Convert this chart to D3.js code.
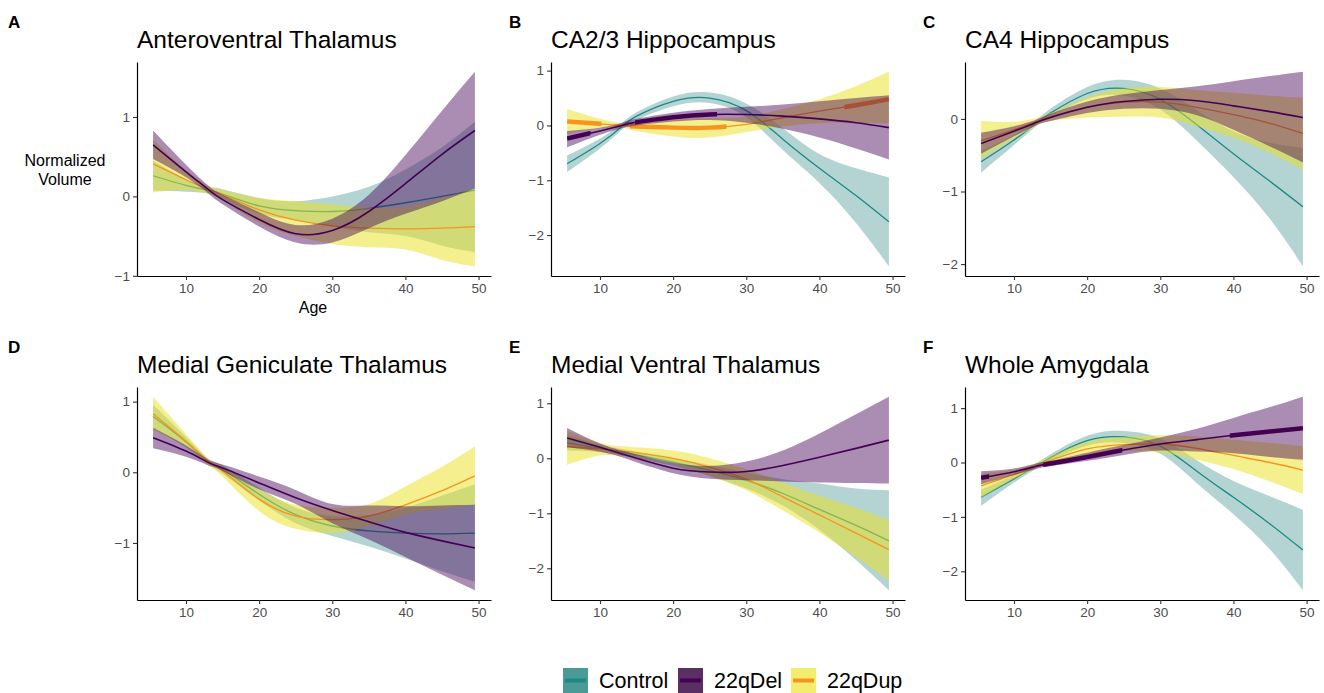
<!DOCTYPE html>
<html>
<head>
<meta charset="utf-8">
<script src="https://cdn.jsdelivr.net/npm/d3@7"></script>
<style>
body { margin: 0; background: #fff; }
svg { font-family: "Liberation Sans", Arial, Helvetica, sans-serif; }
</style>
</head>
<body>
<svg id="fig" width="1324" height="693"></svg>
<script>
var ages = [5.5, 10, 13, 15, 20, 25, 30, 35, 40, 45, 49.5];
var xTicks = [10, 20, 30, 40, 50];
var groupNames = ["Control", "22qDel", "22qDup"];

// each entry: [lower, fit, upper]
var avControl = [[0.07,0.26,0.45],[0.06,0.14,0.22],[0.04,0.08,0.12],[-0.03,0.03,0.09],[-0.22,-0.12,-0.02],[-0.3,-0.18,-0.06],[-0.38,-0.19,0.0],[-0.45,-0.15,0.12],[-0.5,-0.08,0.34],[-0.62,0.0,0.62],[-0.7,0.08,0.94]];
var avDel = [[0.47,0.65,0.83],[0.24,0.31,0.4],[0.04,0.09,0.14],[-0.1,-0.04,0.02],[-0.38,-0.29,-0.2],[-0.58,-0.47,-0.36],[-0.58,-0.43,-0.28],[-0.4,-0.19,0.02],[-0.22,0.16,0.52],[-0.06,0.53,1.08],[0.1,0.83,1.57]];
var avDup = [[0.05,0.41,0.72],[0.08,0.21,0.33],[0.03,0.09,0.14],[-0.05,0.02,0.08],[-0.33,-0.17,-0.02],[-0.5,-0.3,-0.06],[-0.6,-0.37,-0.1],[-0.64,-0.4,-0.14],[-0.67,-0.41,-0.13],[-0.8,-0.4,-0.02],[-0.88,-0.38,0.1]];

var ca23Control = [[-0.85,-0.7,-0.55],[-0.42,-0.33,-0.24],[-0.08,-0.02,0.04],[0.1,0.17,0.24],[0.35,0.44,0.53],[0.41,0.5,0.6],[0.15,0.27,0.4],[-0.45,-0.25,-0.05],[-1.05,-0.78,-0.52],[-1.78,-1.28,-0.78],[-2.57,-1.76,-0.95]];
var ca23Del = [[-0.4,-0.24,-0.1],[-0.17,-0.1,-0.04],[-0.05,0.0,0.05],[0.0,0.06,0.12],[0.07,0.15,0.23],[0.1,0.2,0.3],[0.05,0.2,0.34],[-0.06,0.17,0.38],[-0.22,0.12,0.44],[-0.42,0.05,0.5],[-0.62,-0.04,0.55]];
var ca23Dup = [[-0.15,0.07,0.3],[-0.05,0.03,0.12],[-0.04,0.0,0.04],[-0.1,-0.02,0.05],[-0.2,-0.04,0.1],[-0.22,-0.04,0.13],[-0.12,0.02,0.16],[-0.02,0.14,0.3],[0.04,0.26,0.48],[0.05,0.37,0.72],[0.04,0.48,0.98]];

var ca4Control = [[-0.74,-0.59,-0.44],[-0.36,-0.29,-0.22],[-0.1,-0.06,-0.02],[0.03,0.08,0.14],[0.27,0.35,0.44],[0.32,0.42,0.54],[0.13,0.27,0.42],[-0.3,-0.08,0.12],[-0.8,-0.48,-0.17],[-1.38,-0.86,-0.33],[-2.03,-1.21,-0.4]];
var ca4Del = [[-0.48,-0.34,-0.19],[-0.24,-0.17,-0.1],[-0.09,-0.05,-0.01],[-0.03,0.02,0.07],[0.08,0.16,0.24],[0.14,0.24,0.34],[0.14,0.27,0.4],[0.05,0.25,0.45],[-0.15,0.18,0.52],[-0.38,0.1,0.59],[-0.6,0.02,0.65]];
var ca4Dup = [[-0.55,-0.3,-0.03],[-0.27,-0.15,-0.04],[-0.1,-0.04,0.01],[-0.03,0.03,0.08],[0.02,0.16,0.3],[0.03,0.23,0.42],[0.02,0.23,0.44],[-0.1,0.16,0.4],[-0.26,0.06,0.36],[-0.47,-0.06,0.32],[-0.7,-0.2,0.29]];

var mgControl = [[0.62,0.79,0.96],[0.35,0.43,0.5],[0.12,0.16,0.2],[-0.02,0.04,0.1],[-0.4,-0.31,-0.22],[-0.72,-0.6,-0.5],[-0.9,-0.76,-0.62],[-1.05,-0.83,-0.6],[-1.22,-0.86,-0.5],[-1.4,-0.87,-0.33],[-1.55,-0.86,-0.17]];
var mgDel = [[0.34,0.49,0.63],[0.22,0.3,0.38],[0.1,0.14,0.18],[0.02,0.06,0.11],[-0.24,-0.15,-0.06],[-0.45,-0.36,-0.25],[-0.72,-0.54,-0.45],[-0.95,-0.7,-0.47],[-1.2,-0.85,-0.48],[-1.45,-0.97,-0.47],[-1.67,-1.07,-0.46]];
var mgDup = [[0.6,0.83,1.07],[0.36,0.44,0.54],[0.1,0.16,0.2],[-0.06,0.02,0.08],[-0.55,-0.38,-0.24],[-0.8,-0.62,-0.46],[-0.86,-0.67,-0.5],[-0.76,-0.62,-0.45],[-0.6,-0.46,-0.2],[-0.52,-0.26,0.08],[-0.46,-0.05,0.37]];

var mvControl = [[0.14,0.28,0.42],[0.11,0.18,0.25],[0.05,0.11,0.17],[0.0,0.06,0.12],[-0.14,-0.07,0.0],[-0.32,-0.22,-0.12],[-0.55,-0.4,-0.26],[-0.86,-0.64,-0.38],[-1.3,-0.93,-0.46],[-1.85,-1.22,-0.55],[-2.4,-1.5,-0.58]];
var mvDel = [[0.2,0.37,0.55],[0.12,0.2,0.27],[0.02,0.08,0.14],[-0.07,0.0,0.07],[-0.27,-0.18,-0.08],[-0.37,-0.25,-0.14],[-0.4,-0.24,-0.06],[-0.42,-0.13,0.14],[-0.44,0.02,0.45],[-0.45,0.18,0.8],[-0.46,0.33,1.12]];
var mvDup = [[-0.12,0.21,0.5],[0.05,0.17,0.28],[0.04,0.13,0.22],[0.02,0.1,0.2],[-0.1,0.0,0.14],[-0.32,-0.16,0.0],[-0.58,-0.38,-0.2],[-0.95,-0.7,-0.44],[-1.35,-1.03,-0.68],[-1.8,-1.36,-0.9],[-2.22,-1.66,-1.12]];

var waControl = [[-0.8,-0.64,-0.5],[-0.37,-0.3,-0.23],[-0.12,-0.07,-0.02],[0.03,0.09,0.15],[0.31,0.4,0.49],[0.36,0.47,0.58],[0.16,0.3,0.44],[-0.38,-0.16,0.04],[-0.95,-0.64,-0.34],[-1.6,-1.13,-0.62],[-2.35,-1.61,-0.87]];
var waDel = [[-0.4,-0.28,-0.16],[-0.23,-0.17,-0.11],[-0.12,-0.07,-0.02],[-0.07,-0.02,0.03],[0.03,0.1,0.18],[0.14,0.23,0.32],[0.22,0.34,0.46],[0.2,0.42,0.62],[0.17,0.5,0.82],[0.1,0.57,1.02],[0.05,0.63,1.21]];
var waDup = [[-0.65,-0.43,-0.2],[-0.3,-0.22,-0.13],[-0.11,-0.06,-0.01],[-0.02,0.04,0.11],[0.13,0.25,0.38],[0.2,0.33,0.47],[0.18,0.34,0.5],[0.05,0.26,0.48],[-0.12,0.13,0.42],[-0.35,0.0,0.36],[-0.58,-0.14,0.3]];

// age ranges drawn with a thick line (significant stretches)
var ca23DelThick = [[5.5, 8.7], [14.8, 26]];
var ca23DupThick = [[5.5, 10.2], [14.1, 27.3], [43.4, 49.5]];
var waDelThick = [[5.5, 6.6], [14, 24.8], [39.5, 49.5]];

var panels = [
  {letter: "A", title: "Anteroventral Thalamus", Control: avControl, "22qDel": avDel, "22qDup": avDup, thick: {}},
  {letter: "B", title: "CA2/3 Hippocampus", Control: ca23Control, "22qDel": ca23Del, "22qDup": ca23Dup, thick: {"22qDel": ca23DelThick, "22qDup": ca23DupThick}},
  {letter: "C", title: "CA4 Hippocampus", Control: ca4Control, "22qDel": ca4Del, "22qDup": ca4Dup, thick: {}},
  {letter: "D", title: "Medial Geniculate Thalamus", Control: mgControl, "22qDel": mgDel, "22qDup": mgDup, thick: {}},
  {letter: "E", title: "Medial Ventral Thalamus", Control: mvControl, "22qDel": mvDel, "22qDup": mvDup, thick: {}},
  {letter: "F", title: "Whole Amygdala", Control: waControl, "22qDel": waDel, "22qDup": waDup, thick: {"22qDel": waDelThick}}
];

var style = {
  "Control": {fill: "#3a8f8b", op: 0.38, line: "#1a8a84", lw: 1.3, key: "#4a9a96"},
  "22qDel": {fill: "#440154", op: 0.45, line: "#440154", lw: 1.6, key: "#5a2f62"},
  "22qDup": {fill: "#ece11e", op: 0.5, line: "#f7931e", lw: 1.3, key: "#f3ec6c"}
};
var drawOrder = ["Control", "22qDup", "22qDel"];

var svg = d3.select("#fig");
var colX = [137, 551, 965], rowTop = [62, 387], rowBot = [276, 600], plotW = 354;

var x = d3.scaleLinear().domain([3.3, 51.7]);

panels.forEach(function(p, i){
  var left = colX[i % 3], top = rowTop[Math.floor(i / 3)], bot = rowBot[Math.floor(i / 3)];
  var g = svg.append("g");
  var xs = x.copy().range([left, left + plotW]);

  // y domain like ggplot: data range plus 5%
  var all = [];
  groupNames.forEach(function(k){ p[k].forEach(function(r){ all.push(r[0], r[2]); }); });
  var lo = d3.min(all), hi = d3.max(all), pad = (hi - lo) * 0.05;
  var ys = d3.scaleLinear().domain([lo - pad, hi + pad]).range([bot, top]);

  var area = d3.area().curve(d3.curveNatural)
    .x(function(d, j){ return xs(ages[j]); })
    .y0(function(d){ return ys(d[0]); })
    .y1(function(d){ return ys(d[2]); });
  var line = d3.line().curve(d3.curveNatural)
    .x(function(d, j){ return xs(ages[j]); })
    .y(function(d){ return ys(d[1]); });

  drawOrder.forEach(function(k){
    var s = style[k];
    g.append("path").attr("d", area(p[k]))
      .attr("fill", s.fill).attr("fill-opacity", s.op).attr("stroke", "none");
    g.append("path").attr("d", line(p[k]))
      .attr("fill", "none").attr("stroke", s.line).attr("stroke-width", s.lw);
    if (p.thick[k]) {
      var cid = "clip" + i + k;
      var cp = svg.append("clipPath").attr("id", cid);
      p.thick[k].forEach(function(r){
        cp.append("rect").attr("x", xs(r[0])).attr("width", xs(r[1]) - xs(r[0]))
          .attr("y", top).attr("height", bot - top);
      });
      g.append("path").attr("d", line(p[k]))
        .attr("clip-path", "url(#" + cid + ")")
        .attr("fill", "none").attr("stroke", s.line).attr("stroke-width", 4.5);
    }
  });

  var yTicks = d3.range(Math.ceil(ys.domain()[0]), Math.floor(ys.domain()[1]) + 1);
  var ya = g.append("g").attr("transform", "translate(" + left + ",0)")
    .call(d3.axisLeft(ys).tickValues(yTicks).tickSize(4).tickSizeOuter(0).tickPadding(3).tickFormat(d3.format("d")));
  var xa = g.append("g").attr("transform", "translate(0," + bot + ")")
    .call(d3.axisBottom(xs).tickValues(xTicks).tickSize(4).tickSizeOuter(0).tickPadding(3));
  [ya, xa].forEach(function(a){
    a.select(".domain").attr("stroke", "#000").attr("stroke-width", 1.2);
    a.selectAll(".tick line").attr("stroke", "#333").attr("stroke-width", 1.1);
    a.selectAll(".tick text").attr("fill", "#4d4d4d").style("font-size", "13.5px").style("font-family", "Liberation Sans, Arial, sans-serif");
  });

  g.append("text").attr("x", left).attr("y", top - 14)
    .style("font-size", "24.5px").attr("fill", "#000").text(p.title);
  var lx = [8, 509, 923][i % 3];
  g.append("text").attr("x", lx).attr("y", top - 34)
    .style("font-size", "17px").style("font-weight", "bold").text(p.letter);
});

// axis titles only on panel A
svg.append("text").attr("x", 65).attr("y", 166).attr("text-anchor", "middle")
  .style("font-size", "16px").text("Normalized");
svg.append("text").attr("x", 65).attr("y", 185).attr("text-anchor", "middle")
  .style("font-size", "16px").text("Volume");
svg.append("text").attr("x", 313).attr("y", 313).attr("text-anchor", "middle")
  .style("font-size", "16px").text("Age");

// legend
var legX = [563, 678, 791];
groupNames.forEach(function(k, j){
  var s = style[k];
  var lg = svg.append("g").attr("transform", "translate(" + legX[j] + ",668)");
  lg.append("rect").attr("width", 25).attr("height", 25).attr("fill", s.key);
  lg.append("line").attr("x1", 2).attr("x2", 23).attr("y1", 12.5).attr("y2", 12.5)
    .attr("stroke", s.line).attr("stroke-width", 4);
  lg.append("text").attr("x", 36).attr("y", 20).style("font-size", "21.5px").text(k);
});
</script>
</body>
</html>
